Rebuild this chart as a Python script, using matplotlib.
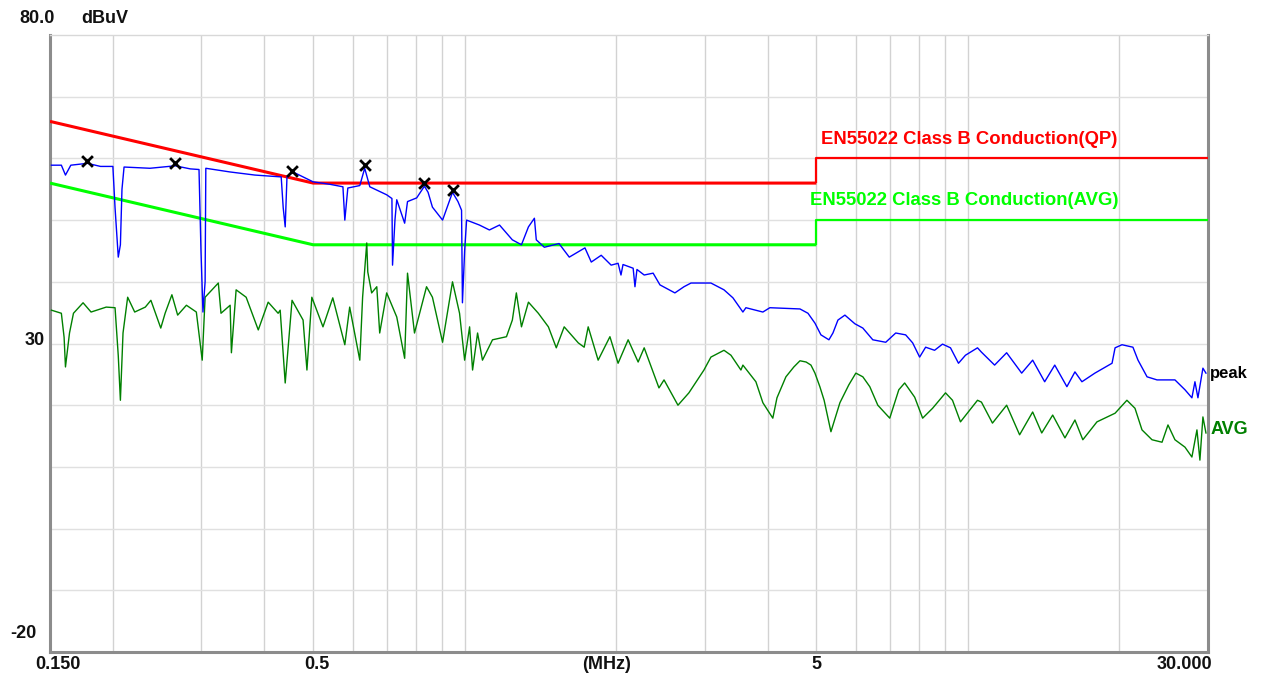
import matplotlib
matplotlib.use("Agg")
import matplotlib.pyplot as plt
from matplotlib.transforms import blended_transform_factory

plt.rcParams['font.family'] = ['Liberation Sans', 'DejaVu Sans']

# ---------------- data (MHz, dBuV) ----------------
peak_freq = [0.151, 0.158, 0.161, 0.165, 0.178, 0.189, 0.200, 0.202, 0.205, 0.207, 0.2085, 0.2105,
             0.237, 0.266, 0.285, 0.2966, 0.2993, 0.302, 0.305, 0.306, 0.342, 0.383, 0.432, 0.436,
             0.440, 0.4436, 0.456, 0.500, 0.540, 0.573, 0.578, 0.586, 0.619, 0.633, 0.648, 0.700,
             0.717, 0.719, 0.727, 0.733, 0.760, 0.770, 0.803, 0.832, 0.846, 0.863, 0.904, 0.946,
             0.970, 0.986, 0.990, 1.000, 1.009, 1.070, 1.120, 1.173, 1.244, 1.297, 1.339, 1.376,
             1.388, 1.440, 1.540, 1.614, 1.734, 1.785, 1.868, 1.955, 2.018, 2.045, 2.064, 2.162,
             2.180, 2.200, 2.274, 2.369, 2.444, 2.617, 2.728, 2.817, 2.989, 3.086, 3.276, 3.413,
             3.572, 3.622, 3.914, 4.041, 4.638, 4.811, 4.967, 5.105, 5.295, 5.393, 5.518, 5.697,
             5.962, 6.184, 6.472, 6.867, 7.188, 7.522, 7.767, 8.019, 8.242, 8.586, 8.904, 9.235,
             9.579, 9.890, 10.45, 10.64, 11.30, 11.94, 12.79, 13.45, 14.21, 14.88, 15.73, 16.32,
             16.85, 17.88, 19.34, 19.61, 20.24, 21.28, 21.78, 22.70, 23.76, 25.79, 27.00, 27.87,
             28.26, 28.65, 29.31, 29.72]
peak_level = [58.9, 58.9, 57.3, 58.9, 59.2, 58.7, 58.7, 52.0, 44.0, 46.0, 55.0, 58.6,
              58.4, 58.8, 58.3, 58.2, 45.0, 35.1, 40.0, 58.4, 57.8, 57.3, 57.0, 52.0,
              48.9, 57.0, 57.8, 56.2, 55.8, 55.4, 50.0, 55.2, 55.6, 58.4, 55.4, 54.1,
              53.5, 42.7, 50.0, 53.3, 49.5, 53.0, 53.6, 55.5, 54.5, 52.1, 50.0, 54.5,
              53.0, 51.6, 36.6, 45.0, 50.0, 49.2, 48.4, 49.2, 46.8, 46.0, 48.9, 50.3,
              46.8, 45.6, 46.2, 44.0, 45.5, 43.2, 44.3, 42.7, 43.0, 41.1, 42.8, 42.2,
              39.2, 42.0, 41.1, 41.4, 39.5, 38.2, 39.2, 39.8, 39.8, 39.8, 38.7, 37.4,
              35.1, 35.8, 35.1, 35.8, 35.6, 34.9, 33.3, 31.4, 30.6, 31.7, 33.8, 34.6,
              33.2, 32.5, 30.6, 30.2, 31.7, 31.4, 30.1, 27.8, 29.4, 28.9, 29.9, 29.3,
              26.8, 28.1, 29.3, 28.6, 26.5, 28.5, 25.2, 27.3, 23.8, 26.5, 23.0, 25.4,
              23.8, 25.2, 26.8, 29.3, 29.8, 29.4, 27.3, 24.6, 24.1, 24.1, 22.5, 21.2,
              23.8, 21.2, 26.0, 25.2]

avg_freq = [0.151, 0.158, 0.160, 0.161, 0.164, 0.167, 0.1745, 0.181, 0.194, 0.202, 0.205, 0.207,
            0.2095, 0.214, 0.221, 0.232, 0.238, 0.249, 0.254, 0.262, 0.269, 0.280, 0.293, 0.301,
            0.305, 0.324, 0.328, 0.342, 0.344, 0.3515, 0.368, 0.389, 0.407, 0.426, 0.430, 0.440,
            0.454, 0.4775, 0.486, 0.497, 0.523, 0.547, 0.578, 0.591, 0.619, 0.627, 0.639, 0.642,
            0.6535, 0.669, 0.678, 0.700, 0.733, 0.760, 0.770, 0.795, 0.840, 0.863, 0.904, 0.946,
            0.977, 1.000, 1.023, 1.037, 1.061, 1.085, 1.136, 1.211, 1.244, 1.267, 1.297, 1.339,
            1.401, 1.467, 1.521, 1.577, 1.682, 1.728, 1.760, 1.842, 1.944, 2.018, 2.113, 2.212,
            2.274, 2.433, 2.490, 2.654, 2.790, 2.989, 3.086, 3.276, 3.382, 3.540, 3.572, 3.791,
            3.914, 4.096, 4.175, 4.349, 4.510, 4.638, 4.770, 4.877, 4.967, 5.080, 5.180, 5.344,
            5.568, 5.800, 5.989, 6.184, 6.384, 6.622, 6.994, 7.290, 7.488, 7.839, 8.130, 8.508,
            9.027, 9.320, 9.666, 10.45, 10.64, 11.19, 11.94, 12.67, 13.45, 14.02, 14.74, 15.59,
            16.32, 16.92, 18.05, 19.61, 20.70, 21.48, 22.18, 23.22, 24.31, 24.98, 25.79, 27.00,
            27.87, 28.52, 28.91, 29.31, 29.72]
avg_level = [35.4, 34.9, 31.0, 26.2, 31.7, 34.9, 36.6, 35.1, 35.9, 35.8, 28.0, 20.8,
             31.7, 37.5, 35.1, 35.9, 37.0, 32.5, 34.9, 37.9, 34.6, 36.2, 35.1, 27.3,
             37.5, 39.8, 34.9, 36.2, 28.5, 38.7, 37.5, 32.2, 36.7, 34.9, 35.4, 23.6,
             37.0, 33.8, 25.7, 37.5, 32.7, 37.4, 29.8, 35.9, 27.3, 37.5, 46.3, 41.6,
             38.2, 39.2, 31.7, 38.2, 34.3, 27.6, 41.4, 31.7, 39.2, 37.5, 30.2, 40.0,
             34.9, 27.3, 32.7, 25.7, 31.7, 27.3, 30.6, 31.1, 33.8, 38.2, 32.7, 36.7,
             34.9, 32.7, 29.3, 32.7, 30.1, 29.4, 32.7, 27.3, 31.1, 26.8, 30.6, 27.0,
             29.3, 22.8, 24.1, 20.0, 22.0, 25.7, 27.8, 28.9, 28.1, 25.7, 26.5, 23.8,
             20.4, 17.9, 21.2, 24.6, 26.2, 27.2, 27.0, 26.5, 25.2, 23.0, 20.8, 15.7,
             20.4, 23.3, 25.2, 24.6, 23.0, 20.0, 17.9, 22.5, 23.6, 21.3, 17.9, 19.5,
             22.0, 20.8, 17.3, 20.8, 20.5, 17.1, 20.0, 15.2, 18.9, 15.5, 18.4, 14.7,
             17.6, 14.4, 17.3, 18.7, 20.8, 19.5, 16.0, 14.4, 14.0, 16.8, 14.4, 13.2,
             11.6, 16.0, 11.1, 18.1, 15.5]

marker_freq = [0.178, 0.266, 0.454, 0.633, 0.832, 0.946]
marker_level = [59.6, 59.3, 58.0, 58.9, 56.0, 54.9]

limit_freq = [0.15, 0.5, 5.0, 5.0, 30.0]
qp_limit = [66, 56, 56, 60, 60]
avg_limit = [56, 46, 46, 50, 50]

x_tick_vals = [0.15, 0.5, 5, 30]
x_tick_labels = ['0.150', '0.5', '5', '30.000']
y_tick_vals = [30, -20]
y_tick_labels = ['30', '-20']
x_grid = [0.2, 0.3, 0.4, 0.5, 0.6, 0.7, 0.8, 0.9, 1, 2, 3, 4, 5, 6, 7, 8, 9, 10, 20]
y_grid = [70, 60, 50, 40, 30, 20, 10, 0, -10]

# ---------------- figure ----------------
W, H = 1269, 684
fig = plt.figure(figsize=(W / 100, H / 100), dpi=100)
ax = fig.add_axes([50 / W, 1 - 652 / H, (1208 - 50) / W, (652 - 35) / H])
ax.set_xscale('log')
ax.set_xlim(0.15, 30)
ax.set_ylim(-20, 80)

for g in x_grid:
    ax.axvline(g, color='#d2d2d2', lw=1.0, zorder=0)
for g in y_grid:
    ax.axhline(g, color='#e0e0e0', lw=1.0, zorder=0)

ax.set_xticks([])
ax.set_yticks([])
ax.xaxis.set_minor_locator(matplotlib.ticker.NullLocator())

for side in ['left', 'bottom', 'right']:
    ax.spines[side].set_color('#8c8c8c')
    ax.spines[side].set_linewidth(2.2)
ax.spines['top'].set_color('#d8d8d8')
ax.spines['top'].set_linewidth(1.0)

# limit lines
ax.plot(limit_freq[:3], qp_limit[:3], color='#ff0000', lw=2.2, zorder=3, solid_capstyle='butt')
ax.plot(limit_freq[2:], qp_limit[2:], color='#ff0000', lw=1.6, zorder=3, solid_capstyle='butt')
ax.plot(limit_freq[:3], avg_limit[:3], color='#00ff00', lw=2.2, zorder=3, solid_capstyle='butt')
ax.plot(limit_freq[2:], avg_limit[2:], color='#00ff00', lw=1.6, zorder=3, solid_capstyle='butt')

# traces
ax.plot(avg_freq, avg_level, color='#008000', lw=1.0, zorder=4)
ax.plot(peak_freq, peak_level, color='#0000ff', lw=1.0, zorder=5)
ax.scatter(marker_freq, marker_level, marker='x', color='black', s=60, linewidths=2.0, zorder=6)

# limit labels
ax.text(5.1, 63.0, 'EN55022 Class B Conduction(QP)', color='#ff0000', fontsize=13.3,
        fontweight='bold', ha='left', va='center')
ax.text(4.85, 53.2, 'EN55022 Class B Conduction(AVG)', color='#00ff00', fontsize=13.3,
        fontweight='bold', ha='left', va='center')
ax.text(30.3, peak_level[-1] - 0.1, 'peak', color='black', fontsize=12, fontweight='bold',
        ha='left', va='center', clip_on=False)
ax.text(30.3, avg_level[-1] + 0.5, 'AVG', color='#008000', fontsize=13, fontweight='bold',
        ha='left', va='center', clip_on=False)

# tick labels
tick_font = dict(fontsize=13, fontweight='bold', color='#111111')
xt = blended_transform_factory(ax.transData, ax.transAxes)
x_offsets = [(6, 'center'), (3, 'center'), (0, 'center'), (3, 'right')]
for v, lab, (dx, ha) in zip(x_tick_vals, x_tick_labels, x_offsets):
    ax.annotate(lab, xy=(v, 0), xycoords=xt, xytext=(dx, -9), textcoords='offset points',
                ha=ha, va='center', **tick_font)
ax.annotate('(MHz)', xy=(0.5, 0), xycoords='axes fraction', xytext=(-16, -9),
            textcoords='offset points', ha='center', va='center', **tick_font)

yt = blended_transform_factory(ax.transAxes, ax.transData)
y_offsets = [2, 13]
y_dx = [-4, -10]
for v, lab, dy, dx in zip(y_tick_vals, y_tick_labels, y_offsets, y_dx):
    ax.annotate(lab, xy=(0, v), xycoords=yt, xytext=(dx, dy),
                textcoords='offset points', ha='right', va='center', **tick_font)
ax.annotate('80.0', xy=(0, 80), xycoords=yt, xytext=(-9.4, 12), textcoords='offset points',
            ha='center', va='center', **tick_font)
ax.annotate('dBuV', xy=(0, 80), xycoords=yt, xytext=(39.6, 12), textcoords='offset points',
            ha='center', va='center', **tick_font)

fig.savefig('out.png', dpi=100)
